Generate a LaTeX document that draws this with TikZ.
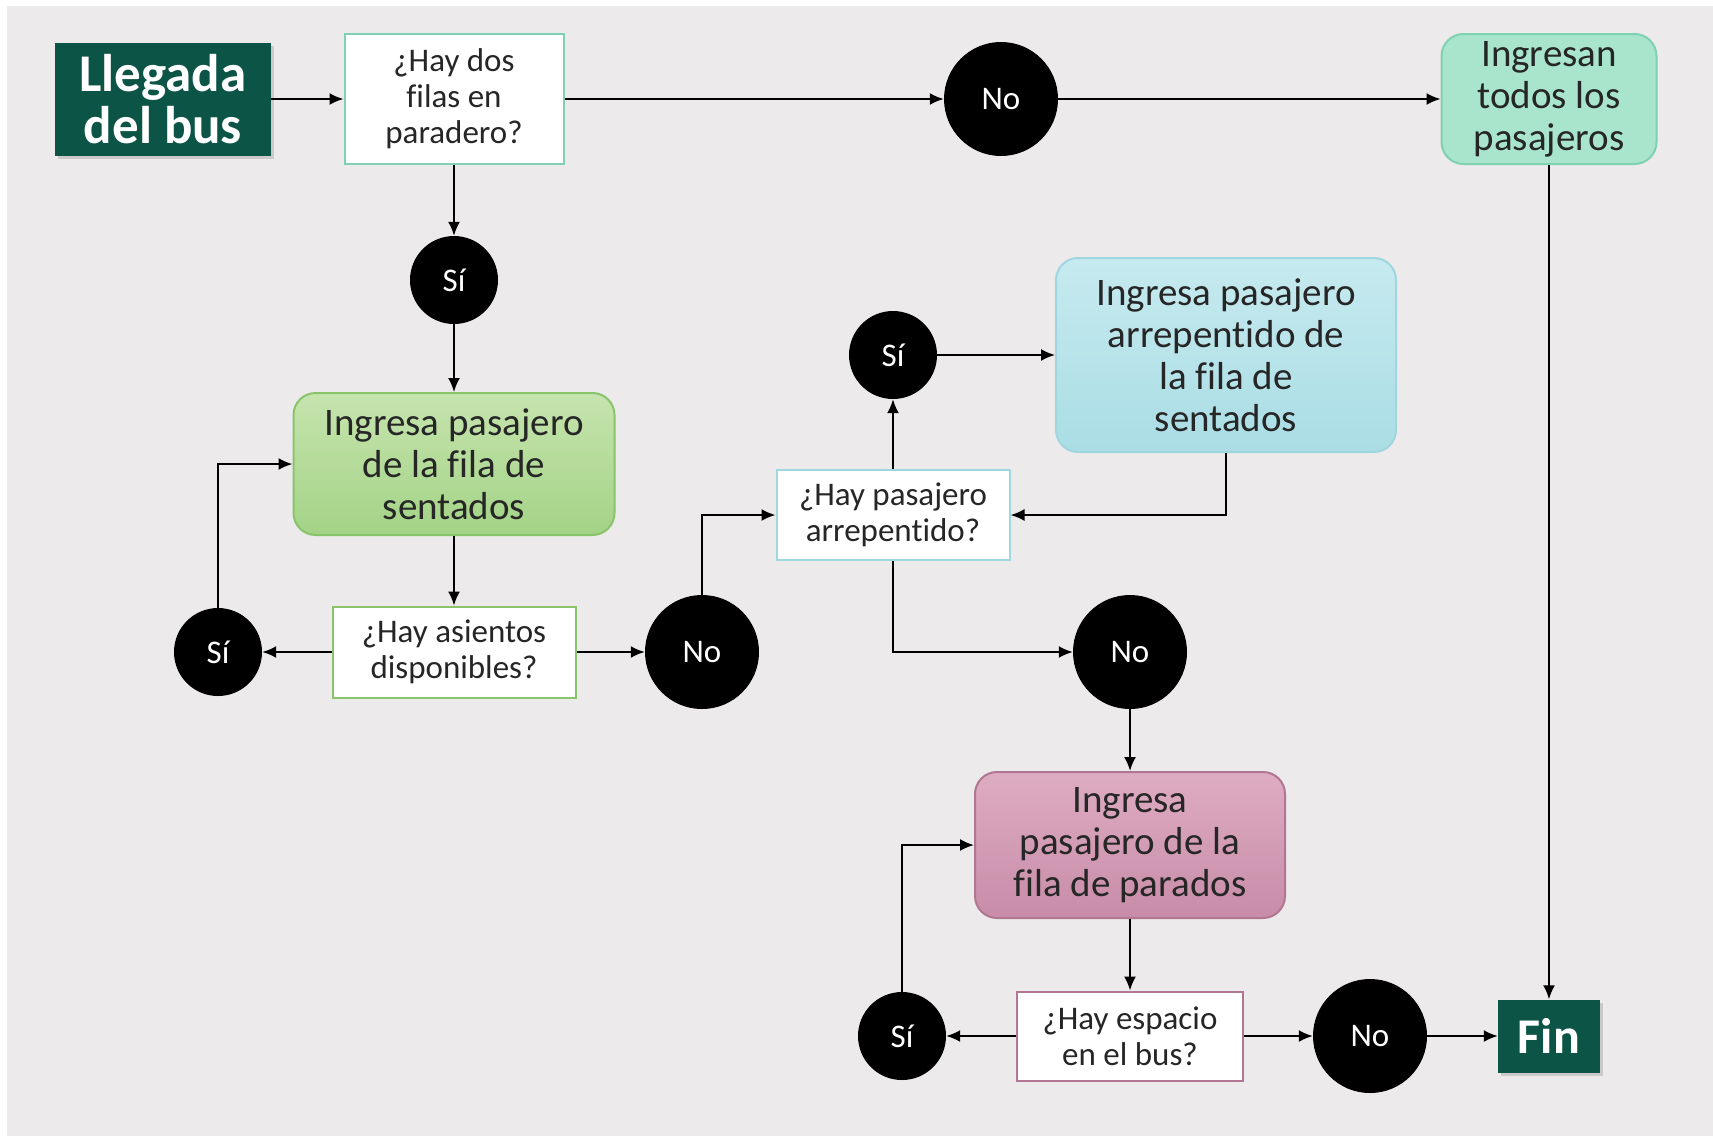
\documentclass[tikz,border=0pt]{standalone}
\usepackage{fontspec}
\setmainfont{Carlito}[Ligatures=NoCommon]
\usetikzlibrary{arrows.meta,shadows}
\definecolor{fondo}{RGB}{236,234,235}
\definecolor{bosque}{RGB}{12,84,70}
\definecolor{bordeteal}{RGB}{128,208,184}
\definecolor{menta}{RGB}{168,229,204}
\definecolor{bordementa}{RGB}{126,210,176}
\definecolor{verdeclaro}{RGB}{198,228,174}
\definecolor{verdeosc}{RGB}{163,211,134}
\definecolor{bordeverde}{RGB}{138,196,106}
\definecolor{celeste}{RGB}{198,234,239}
\definecolor{celesteosc}{RGB}{170,221,229}
\definecolor{bordeceleste}{RGB}{160,214,224}
\definecolor{rosa}{RGB}{222,172,194}
\definecolor{rosaosc}{RGB}{200,140,168}
\definecolor{borderosa}{RGB}{176,118,146}

\begin{document}
\begin{tikzpicture}[x=1pt,y=-1pt,
	terminal/.style={rectangle,fill=bosque,text=white,inner sep=0pt,align=center,
		drop shadow={shadow xshift=3pt,shadow yshift=-3pt,opacity=0.3}},
	pregunta/.style={rectangle,fill=white,draw=#1,line width=2pt,inner sep=0pt,align=center,
		text=black!85,font=\fontsize{33}{36}\selectfont},
	accion/.style 2 args={rectangle,rounded corners=22pt,top color=#1,bottom color=#2,line width=2pt,
		inner sep=0pt,align=center,text=black!85,font=\fontsize{39}{42}\selectfont},
	bolasi/.style={circle,fill=black,text=white,minimum size=88pt,inner sep=0pt,font=\fontsize{33}{36}\selectfont},
	bolano/.style={circle,fill=black,text=white,minimum size=114pt,inner sep=0pt,font=\fontsize{33}{36}\selectfont},
	flecha/.style={line width=2pt,-{Latex[length=14pt,width=12pt]}}]
	\useasboundingbox (0,0) rectangle (1713,1136);
	\fill[fondo] (7,6) rectangle (1713,1136);
	
	\node[terminal,minimum width=216pt,minimum height=113pt,font=\bfseries\fontsize{53}{52}\selectfont] (llegada) at (163,99) {Llegada\\del bus};
	\node[pregunta=bordeteal,minimum width=219pt,minimum height=130pt] (q1) at (454,99) {¿Hay dos\\filas en\\paradero?};
	\node[bolano] (no1) at (1001,99) {No};
	\node[accion={menta}{menta},draw=bordementa,minimum width=215pt,minimum height=130pt] (todos) at (1549,99) {Ingresan\\todos los\\pasajeros};
	
	\node[bolasi] (si1) at (454,280) {Sí};
	\node[accion={verdeclaro}{verdeosc},draw=bordeverde,minimum width=321pt,minimum height=142pt] (sentados) at (454,464) {Ingresa pasajero\\de la fila de\\sentados};
	\node[pregunta=bordeverde,minimum width=243pt,minimum height=91pt] (q2) at (454,652) {¿Hay asientos\\disponibles?};
	\node[bolasi] (si2) at (218,652) {Sí};
	\node[bolano] (no2) at (702,652) {No};
	
	\node[pregunta=bordeceleste,minimum width=233pt,minimum height=90pt] (q3) at (893,515) {¿Hay pasajero\\arrepentido?};
	\node[bolasi] (si3) at (893,355) {Sí};
	\node[accion={celeste}{celesteosc},draw=bordeceleste,minimum width=340pt,minimum height=194pt] (arrep) at (1226,355) {Ingresa pasajero\\arrepentido de\\la fila de\\sentados};
	\node[bolano] (no3) at (1130,652) {No};
	
	\node[accion={rosa}{rosaosc},draw=borderosa,minimum width=310pt,minimum height=146pt] (parados) at (1130,845) {Ingresa\\pasajero de la\\fila de parados};
	\node[pregunta=borderosa,minimum width=226pt,minimum height=89pt] (q4) at (1130,1036) {¿Hay espacio\\en el bus?};
	\node[bolasi] (si4) at (902,1036) {Sí};
	\node[bolano] (no4) at (1370,1036) {No};
	\node[terminal,minimum width=102pt,minimum height=73pt,font=\bfseries\fontsize{50}{50}\selectfont] (fin) at (1549,1036) {Fin};
	
	\draw[flecha] (llegada) -- (q1);
	\draw[flecha] (q1) -- (no1);
	\draw[flecha] (no1) -- (todos);
	\draw[flecha] (todos) -- (fin);
	\draw[flecha] (q1) -- (si1);
	\draw[flecha] (si1) -- (sentados);
	\draw[flecha] (sentados) -- (q2);
	\draw[flecha] (q2) -- (si2);
	\draw[flecha] (si2) |- (sentados);
	\draw[flecha] (q2) -- (no2);
	\draw[flecha] (no2) |- (q3);
	\draw[flecha] (q3) -- (si3);
	\draw[flecha] (si3) -- (arrep);
	\draw[flecha] (arrep) |- (q3);
	\draw[flecha] (q3) |- (no3);
	\draw[flecha] (no3) -- (parados);
	\draw[flecha] (parados) -- (q4);
	\draw[flecha] (q4) -- (si4);
	\draw[flecha] (si4) |- (parados);
	\draw[flecha] (q4) -- (no4);
	\draw[flecha] (no4) -- (fin);
\end{tikzpicture}
\end{document}
